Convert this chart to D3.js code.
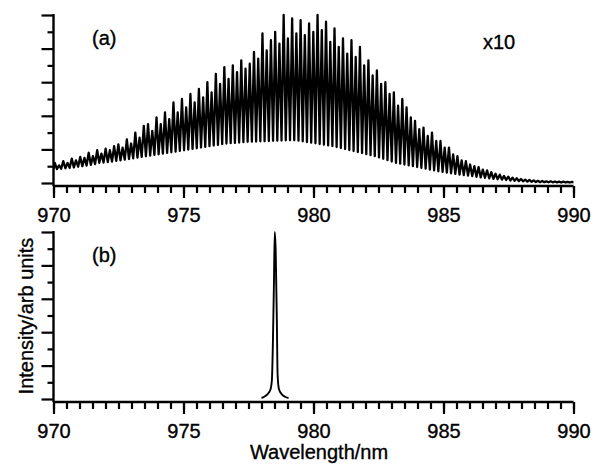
<!DOCTYPE html>
<html>
<head>
<meta charset="utf-8">
<script src="https://cdn.jsdelivr.net/npm/d3@7"></script>
<style>
  body { margin: 0; background: #fff; }
  text { font-family: "Liberation Sans", Arial, sans-serif; fill: #000; stroke: #000; stroke-width: 0.35px; }
</style>
</head>
<body>
<script>
// panel (a): laser modes, one peak per mode, x10
var modeStart = 970.05;   // nm, first mode
var modeStep = 0.163;     // nm, mode spacing
var modePeaks = [
  1.2, 1.05, 1.3, 1.2, 1.45, 1.35, 1.55, 1.5, 1.8, 1.6,
  1.95, 1.75, 2.05, 1.95, 2.2, 2.3, 2.1, 2.6, 2.35, 3.0,
  2.7, 3.4, 3.5, 3.1, 3.9, 3.5, 4.2, 3.8, 4.8, 4.2,
  5.0, 4.5, 5.3, 4.8, 5.6, 5.1, 6.0, 5.4, 6.5, 5.9,
  6.9, 6.2, 7.0, 6.6, 7.3, 6.8, 7.1, 7.8, 7.4, 8.9,
  7.9, 8.5, 9.0, 8.3, 10.0, 8.6, 9.8, 8.9, 9.7, 8.8,
  9.5, 9.0, 10.0, 9.1, 9.6, 8.4, 9.2, 8.1, 8.6, 7.7,
  8.5, 7.5, 8.1, 7.0, 7.3, 6.4, 6.7, 5.9, 6.0, 5.3,
  5.4, 4.6, 5.0, 4.5, 3.9, 3.7, 3.2, 3.3, 2.8, 3.0,
  2.5, 2.5, 2.1, 2.1, 1.7, 1.6, 1.35, 1.3, 1.1, 1.0,
  0.95, 0.8, 0.75, 0.65, 0.55, 0.5, 0.42, 0.38, 0.32, 0.28,
  0.24, 0.2, 0.18, 0.15, 0.13, 0.12, 0.1, 0.1, 0.09, 0.08,
  0.08, 0.07, 0.07
];
var modeValleys = [
  0.83, 0.85, 0.88, 0.9, 0.93, 0.97, 1.0, 1.04, 1.08, 1.13,
  1.2, 1.22, 1.25, 1.28, 1.32, 1.35, 1.39, 1.43, 1.47, 1.51,
  1.55, 1.59, 1.63, 1.67, 1.71, 1.75, 1.79, 1.83, 1.87, 1.91,
  1.95, 1.99, 2.03, 2.07, 2.11, 2.15, 2.19, 2.23, 2.27, 2.31,
  2.35, 2.37, 2.39, 2.41, 2.43, 2.45, 2.46, 2.47, 2.48, 2.49,
  2.5, 2.51, 2.52, 2.53, 2.54, 2.55, 2.54, 2.52, 2.48, 2.44,
  2.4, 2.36, 2.32, 2.28, 2.24, 2.2, 2.14, 2.08, 2.02, 1.96,
  1.9, 1.84, 1.78, 1.72, 1.66, 1.6, 1.52, 1.44, 1.36, 1.28,
  1.2, 1.15, 1.1, 1.05, 1.0, 0.95, 0.9, 0.85, 0.8, 0.75,
  0.7, 0.66, 0.62, 0.58, 0.54, 0.5, 0.47, 0.44, 0.41, 0.37,
  0.33, 0.31, 0.28, 0.25, 0.22, 0.2, 0.18, 0.15, 0.13, 0.11,
  0.1, 0.08, 0.07, 0.06, 0.05, 0.05, 0.04, 0.04, 0.04, 0.03,
  0.03, 0.03, 0.03
];

// panel (b): single mode
var nmB = [978.0, 978.15, 978.27, 978.35, 978.4, 978.44, 978.48, 978.51,
           978.545, 978.59, 978.62, 978.67, 978.77, 978.92, 979.04];
var intensityB = [0.06, 0.18, 0.36, 0.6, 1.14, 3.5, 7.1, 10.0,
                  8.9, 4.7, 1.44, 0.6, 0.3, 0.12, 0.06];

var xMajor = [970, 975, 980, 985, 990];
var xMinor = d3.range(970, 990.01, 0.5);
var yMajor = [0, 2, 4, 6, 8, 10];
var yMinor = [1, 3, 5, 7, 9];

var width = 602, height = 465;
var svg = d3.select("body").append("svg")
  .attr("width", width)
  .attr("height", height);

var x = d3.scaleLinear().domain([970, 990]).range([53.5, 573.5]);

function panel(top, bottom, axisY, id) {
  var y = d3.scaleLinear().domain([0, 10]).range([bottom, top]);
  var g = svg.append("g");

  // x ticks
  g.append("g").attr("transform", "translate(0," + axisY + ")")
    .call(d3.axisBottom(x).tickValues(xMinor).tickSize(7).tickFormat(""));
  g.append("g").attr("class", "xmaj").attr("transform", "translate(0," + axisY + ")")
    .call(d3.axisBottom(x).tickValues(xMajor).tickSize(12).tickPadding(10).tickFormat(d3.format("d")));
  // y ticks
  g.append("g").attr("transform", "translate(" + x(970) + ",0)")
    .call(d3.axisLeft(y).tickValues(yMinor).tickSize(6).tickFormat(""));
  g.append("g").attr("transform", "translate(" + x(970) + ",0)")
    .call(d3.axisLeft(y).tickValues(yMajor).tickSize(12).tickFormat(""));

  g.selectAll(".domain").remove();
  g.selectAll(".tick line").attr("stroke", "#000").attr("stroke-width", 2.2);
  g.selectAll(".xmaj text").style("font-size", "20px").attr("fill", "#000")
    .style("font-family", "'Liberation Sans', Arial, sans-serif");

  // axis lines
  g.append("line").attr("x1", x(970)).attr("x2", x(990))
    .attr("y1", axisY).attr("y2", axisY)
    .attr("stroke", "#000").attr("stroke-width", 2.4);
  g.append("line").attr("x1", x(970)).attr("x2", x(970))
    .attr("y1", y(10) - 1).attr("y2", axisY)
    .attr("stroke", "#000").attr("stroke-width", 2.4);

  svg.append("clipPath").attr("id", id)
    .append("rect").attr("x", x(970)).attr("y", top - 5)
    .attr("width", x(990) - x(970)).attr("height", bottom - top + 10);
  return y;
}

// ---- panel (a)
var ya = panel(15, 183, 186, "clipA");
var ptsA = [[970, modeValleys[0]]];
modePeaks.forEach(function(p, i) {
  var nm = modeStart + i * modeStep;
  ptsA.push([nm, p]);
  ptsA.push([nm + modeStep / 2, modeValleys[i]]);
});
svg.append("path")
  .datum(ptsA)
  .attr("clip-path", "url(#clipA)")
  .attr("fill", "none")
  .attr("stroke", "#000")
  .attr("stroke-width", 2.3)
  .attr("stroke-linejoin", "round")
  .attr("d", d3.line().x(function(d) { return x(d[0]); }).y(function(d) { return ya(d[1]); }));

svg.append("text").attr("x", 92).attr("y", 45).style("font-size", "20px").text("(a)");
svg.append("text").attr("x", 483).attr("y", 49).style("font-size", "20px").text("x10");

// ---- panel (b)
var yb = panel(232, 399, 402, "clipB");
svg.append("path")
  .datum(nmB.map(function(d, i) { return [d, intensityB[i]]; }))
  .attr("fill", "none")
  .attr("stroke", "#000")
  .attr("stroke-width", 1.9)
  .attr("d", d3.line().curve(d3.curveMonotoneX)
    .x(function(d) { return x(d[0]); }).y(function(d) { return yb(d[1]); }));

svg.append("text").attr("x", 92).attr("y", 262).style("font-size", "20px").text("(b)");

// axis titles
svg.append("text")
  .attr("x", 319).attr("y", 459)
  .attr("text-anchor", "middle")
  .style("font-size", "20px")
  .text("Wavelength/nm");
svg.append("text")
  .attr("transform", "translate(33,316) rotate(-90)")
  .attr("text-anchor", "middle")
  .style("font-size", "20px")
  .text("Intensity/arb units");
</script>
</body>
</html>
